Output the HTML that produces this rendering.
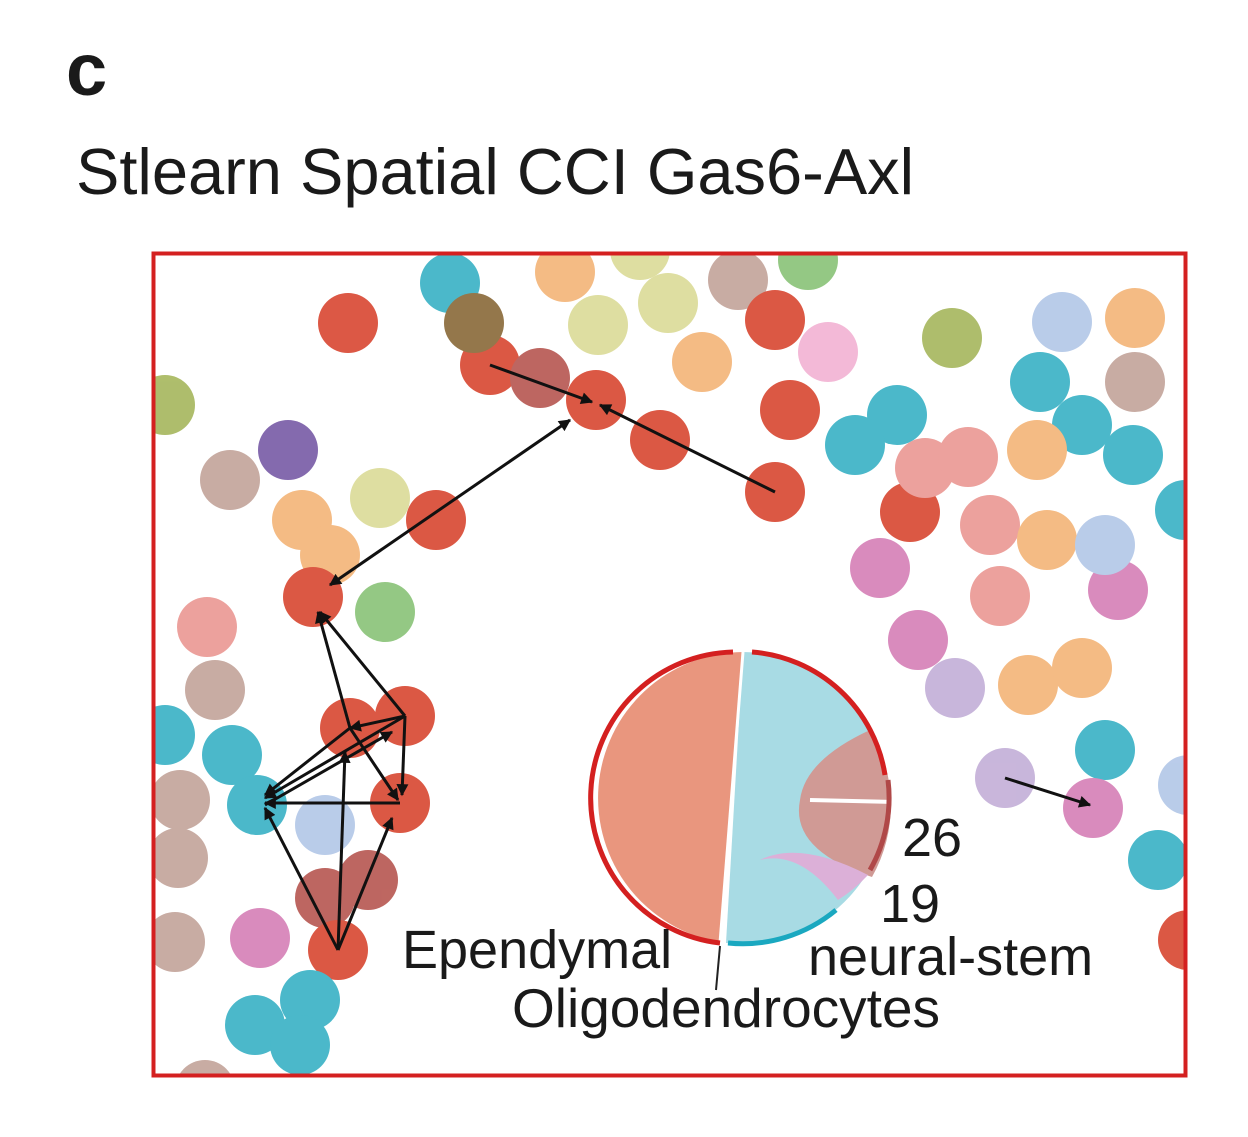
<!DOCTYPE html>
<html><head><style>
html,body{margin:0;padding:0;background:#fff;}
svg{display:block;}
text{font-family:"Liberation Sans",Arial,sans-serif;fill:#1a1a1a;}
</style></head><body>
<svg width="1248" height="1137" viewBox="0 0 1248 1137" xmlns="http://www.w3.org/2000/svg">
<defs>
<clipPath id="box"><rect x="152" y="252" width="1034" height="824"/></clipPath>
<marker id="ah" viewBox="0 0 10 10" refX="9" refY="5" markerWidth="14" markerHeight="12" orient="auto-start-reverse" markerUnits="userSpaceOnUse"><path d="M0,0 L10,5 L0,10 z" fill="#111"/></marker>
</defs>
<text x="66" y="95" font-size="74" font-weight="bold">c</text>
<text x="76" y="194" font-size="65">Stlearn Spatial CCI Gas6-Axl</text>
<g clip-path="url(#box)" opacity="0.92">
<g>
<circle cx="450" cy="283" r="30" fill="#3cb3c6"/>
<circle cx="565" cy="272" r="30" fill="#f4b67a"/>
<circle cx="640" cy="250" r="30" fill="#dcdc9a"/>
<circle cx="738" cy="280" r="30" fill="#c4a59c"/>
<circle cx="808" cy="260" r="30" fill="#8cc47a"/>
<circle cx="348" cy="323" r="30" fill="#d94a35"/>
<circle cx="598" cy="325" r="30" fill="#dcdc9a"/>
<circle cx="668" cy="303" r="30" fill="#dcdc9a"/>
<circle cx="775" cy="320" r="30" fill="#d94a35"/>
<circle cx="702" cy="362" r="30" fill="#f4b67a"/>
<circle cx="828" cy="352" r="30" fill="#f2b4d4"/>
<circle cx="490" cy="365" r="30" fill="#d94a35"/>
<circle cx="474" cy="323" r="30" fill="#8c6c3c"/>
<circle cx="540" cy="378" r="30" fill="#b85a54"/>
<circle cx="596" cy="400" r="30" fill="#d94a35"/>
<circle cx="660" cy="440" r="30" fill="#d94a35"/>
<circle cx="790" cy="410" r="30" fill="#d94a35"/>
<circle cx="775" cy="492" r="30" fill="#d94a35"/>
<circle cx="952" cy="338" r="30" fill="#a8b860"/>
<circle cx="1062" cy="322" r="30" fill="#b4c8e8"/>
<circle cx="1135" cy="318" r="30" fill="#f4b67a"/>
<circle cx="1040" cy="382" r="30" fill="#3cb3c6"/>
<circle cx="1135" cy="382" r="30" fill="#c4a59c"/>
<circle cx="1082" cy="425" r="30" fill="#3cb3c6"/>
<circle cx="1133" cy="455" r="30" fill="#3cb3c6"/>
<circle cx="897" cy="415" r="30" fill="#3cb3c6"/>
<circle cx="855" cy="445" r="30" fill="#3cb3c6"/>
<circle cx="1037" cy="450" r="30" fill="#f4b67a"/>
<circle cx="910" cy="512" r="30" fill="#d94a35"/>
<circle cx="925" cy="468" r="30" fill="#eb9a95"/>
<circle cx="968" cy="457" r="30" fill="#eb9a95"/>
<circle cx="990" cy="525" r="30" fill="#eb9a95"/>
<circle cx="1047" cy="540" r="30" fill="#f4b67a"/>
<circle cx="1118" cy="590" r="30" fill="#d682b8"/>
<circle cx="1105" cy="545" r="30" fill="#b4c8e8"/>
<circle cx="1185" cy="510" r="30" fill="#3cb3c6"/>
<circle cx="880" cy="568" r="30" fill="#d682b8"/>
<circle cx="1000" cy="596" r="30" fill="#eb9a95"/>
<circle cx="918" cy="640" r="30" fill="#d682b8"/>
<circle cx="955" cy="688" r="30" fill="#c4b0d8"/>
<circle cx="1028" cy="685" r="30" fill="#f4b67a"/>
<circle cx="1082" cy="668" r="30" fill="#f4b67a"/>
<circle cx="1105" cy="750" r="30" fill="#3cb3c6"/>
<circle cx="1005" cy="778" r="30" fill="#c4b0d8"/>
<circle cx="1093" cy="808" r="30" fill="#d682b8"/>
<circle cx="1188" cy="785" r="30" fill="#b4c8e8"/>
<circle cx="1158" cy="860" r="30" fill="#3cb3c6"/>
<circle cx="1188" cy="940" r="30" fill="#d94a35"/>
<circle cx="165" cy="405" r="30" fill="#a8b860"/>
<circle cx="288" cy="450" r="30" fill="#7a5ea8"/>
<circle cx="230" cy="480" r="30" fill="#c4a59c"/>
<circle cx="380" cy="498" r="30" fill="#dcdc9a"/>
<circle cx="302" cy="520" r="30" fill="#f4b67a"/>
<circle cx="436" cy="520" r="30" fill="#d94a35"/>
<circle cx="330" cy="555" r="30" fill="#f4b67a"/>
<circle cx="313" cy="597" r="30" fill="#d94a35"/>
<circle cx="385" cy="612" r="30" fill="#8cc47a"/>
<circle cx="207" cy="627" r="30" fill="#eb9a95"/>
<circle cx="215" cy="690" r="30" fill="#c4a59c"/>
<circle cx="350" cy="728" r="30" fill="#d94a35"/>
<circle cx="405" cy="716" r="30" fill="#d94a35"/>
<circle cx="165" cy="735" r="30" fill="#3cb3c6"/>
<circle cx="232" cy="755" r="30" fill="#3cb3c6"/>
<circle cx="180" cy="800" r="30" fill="#c4a59c"/>
<circle cx="257" cy="805" r="30" fill="#3cb3c6"/>
<circle cx="400" cy="803" r="30" fill="#d94a35"/>
<circle cx="325" cy="825" r="30" fill="#b4c8e8"/>
<circle cx="178" cy="858" r="30" fill="#c4a59c"/>
<circle cx="325" cy="898" r="30" fill="#b85a54"/>
<circle cx="368" cy="880" r="30" fill="#b85a54"/>
<circle cx="338" cy="950" r="30" fill="#d94a35"/>
<circle cx="175" cy="942" r="30" fill="#c4a59c"/>
<circle cx="260" cy="938" r="30" fill="#d682b8"/>
<circle cx="310" cy="1000" r="30" fill="#3cb3c6"/>
<circle cx="255" cy="1025" r="30" fill="#3cb3c6"/>
<circle cx="300" cy="1045" r="30" fill="#3cb3c6"/>
<circle cx="205" cy="1090" r="30" fill="#c4a59c"/>
</g>
</g>
<g stroke="#111" stroke-width="3" fill="none" marker-end="url(#ah)">
<line x1="775" y1="492" x2="600" y2="405"/>
<line x1="490" y1="365" x2="592" y2="402"/>
<line x1="570" y1="420" x2="330" y2="585" marker-start="url(#ah)"/>
<line x1="350" y1="728" x2="318" y2="612"/>
<line x1="405" y1="716" x2="320" y2="612"/>
<line x1="405" y1="716" x2="265" y2="798"/>
<line x1="405" y1="716" x2="350" y2="728"/>
<line x1="350" y1="728" x2="265" y2="795"/>
<line x1="400" y1="803" x2="265" y2="803"/>
<line x1="338" y1="950" x2="265" y2="808"/>
<line x1="338" y1="950" x2="345" y2="752"/>
<line x1="338" y1="950" x2="392" y2="818"/>
<line x1="265" y1="805" x2="392" y2="732"/>
<line x1="405" y1="716" x2="402" y2="795"/>
<line x1="350" y1="728" x2="398" y2="800"/>
<line x1="1005" y1="778" x2="1090" y2="805"/>
</g>
<rect x="153.5" y="253.5" width="1032" height="822" fill="none" stroke="#d42020" stroke-width="4"/>
<g>
<path d="M743,652 A146,146 0 0,0 720,942 Z" fill="#e9967e"/>
<path d="M743,652 A146,146 0 0,1 888,800 A146,146 0 0,1 726,943 Z" fill="#a8dbe4"/>
<path d="M870,730 A146,146 0 0,1 872,877 Q790,850 800,800 Q805,760 870,730 Z" fill="#d09a95"/>
<path d="M838,900 A146,146 0 0,0 868,875 Q800,840 760,860 Q800,850 838,900 Z" fill="#dcb0d8"/>
<path d="M810,800 L893,802" stroke="#fff" stroke-width="4"/>
<path d="M720,943 L743,652" stroke="#fff" stroke-width="3"/>
<path d="M733,652 A146,146 0 0,0 720,943" fill="none" stroke="#d42020" stroke-width="5"/>
<path d="M752,652 A146,146 0 0,1 885,775" fill="none" stroke="#d42020" stroke-width="5"/>
<path d="M888,780 A146,146 0 0,1 870,870" fill="none" stroke="#b04848" stroke-width="5"/>
<path d="M728,943 A146,146 0 0,0 836,910" fill="none" stroke="#1aa8c0" stroke-width="5"/>
<line x1="720" y1="946" x2="716" y2="990" stroke="#222" stroke-width="2"/>
</g>
<text x="902" y="856" font-size="54">26</text>
<text x="880" y="922" font-size="54">19</text>
<text x="808" y="975" font-size="54">neural-stem</text>
<text x="402" y="968" font-size="54">Ependymal</text>
<text x="512" y="1027" font-size="55">Oligodendrocytes</text>
</svg>
</body></html>
